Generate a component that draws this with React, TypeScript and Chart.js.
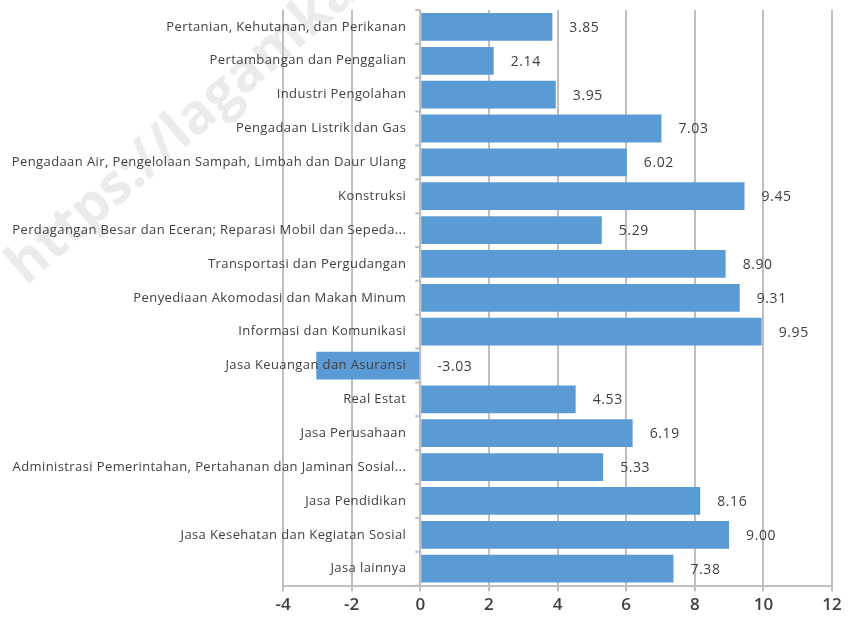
import React, { useEffect, useRef } from "react";
import { Chart, registerables } from "chart.js";

Chart.register(...registerables);

const categories: string[] = [
  "Pertanian, Kehutanan, dan Perikanan",
  "Pertambangan dan Penggalian",
  "Industri Pengolahan",
  "Pengadaan Listrik dan Gas",
  "Pengadaan Air, Pengelolaan Sampah, Limbah dan Daur Ulang",
  "Konstruksi",
  "Perdagangan Besar dan Eceran; Reparasi Mobil dan Sepeda...",
  "Transportasi dan Pergudangan",
  "Penyediaan Akomodasi dan Makan Minum",
  "Informasi dan Komunikasi",
  "Jasa Keuangan dan Asuransi",
  "Real Estat",
  "Jasa Perusahaan",
  "Administrasi Pemerintahan, Pertahanan dan Jaminan Sosial...",
  "Jasa Pendidikan",
  "Jasa Kesehatan dan Kegiatan Sosial",
  "Jasa lainnya",
];

const values: number[] = [
  3.85, 2.14, 3.95, 7.03, 6.02, 9.45, 5.29, 8.9, 9.31, 9.95, -3.03, 4.53, 6.19,
  5.33, 8.16, 9.0, 7.38,
];

const xMin = -4;
const xMax = 12;
const xStep = 2;
const watermarkText = "https://lagamka";

const FAMILY = '"Open Sans", "Noto Sans", sans-serif';
const LABEL_FONT = "13px " + FAMILY;
const VALUE_FONT = "14px " + FAMILY;
const TEXT_COLOR = "#404040";
const GRID_COLOR = "#bfbfbf";

const sidePlugin = {
  id: "sidePlugin",
  beforeDraw(chart: any) {
    const ctx = chart.ctx;
    ctx.save();
    ctx.translate(26, 286);
    ctx.rotate((-41 * Math.PI) / 180);
    ctx.font = "bold 55px " + FAMILY;
    ctx.fillStyle = "#ebebeb";
    ctx.textAlign = "left";
    ctx.textBaseline = "alphabetic";
    ctx.fillText(watermarkText, 0, 0);
    ctx.restore();
  },
  beforeDatasetsDraw(chart: any) {
    const ctx = chart.ctx;
    const x = chart.scales.x;
    const x0 = x.getPixelForValue(0);
    const area = chart.chartArea;
    ctx.save();
    ctx.strokeStyle = GRID_COLOR;
    ctx.lineWidth = 2;
    ctx.beginPath();
    ctx.moveTo(x0, area.top);
    ctx.lineTo(x0, area.bottom);
    const n = categories.length;
    for (let i = 0; i <= n; i++) {
      const py = area.top + ((area.bottom - area.top) * i) / n;
      ctx.moveTo(x0 - 5, py);
      ctx.lineTo(x0, py);
    }
    ctx.stroke();
    ctx.restore();
  },
  afterDatasetsDraw(chart: any) {
    const ctx = chart.ctx;
    const x = chart.scales.x;
    const y = chart.scales.y;
    const x0 = x.getPixelForValue(0);
    ctx.save();
    ctx.fillStyle = TEXT_COLOR;
    ctx.textBaseline = "middle";
    categories.forEach((c, i) => {
      const py = y.getPixelForValue(i);
      ctx.font = LABEL_FONT;
      ctx.letterSpacing = "0.4px";
      ctx.textAlign = "right";
      ctx.fillText(c, x0 - 14, py);
      const v = values[i];
      ctx.font = VALUE_FONT;
      ctx.letterSpacing = "0.6px";
      ctx.textAlign = "left";
      ctx.fillText(v.toFixed(2), x.getPixelForValue(Math.max(v, 0)) + 17, py + 1);
    });
    ctx.restore();
  },
};

export default function App() {
  const ref = useRef<HTMLCanvasElement | null>(null);
  useEffect(() => {
    if (!ref.current) return;
    const chart = new Chart(ref.current, {
      type: "bar",
      data: {
        labels: categories,
        datasets: [
          {
            data: values,
            backgroundColor: "#5b9bd5",
            borderWidth: 0,
            barPercentage: 0.82,
            categoryPercentage: 1,
          },
        ],
      },
      options: {
        indexAxis: "y",
        animation: false,
        responsive: false,
        maintainAspectRatio: false,
        layout: { padding: { left: 283, right: 17, top: 10, bottom: 6 } },
        plugins: {
          legend: { display: false },
          tooltip: { enabled: false },
        },
        scales: {
          x: {
            type: "linear",
            min: xMin,
            max: xMax,
            ticks: {
              stepSize: xStep,
              color: TEXT_COLOR,
              font: { family: FAMILY, size: 17, weight: "600" },
              padding: 3,
            },
            grid: {
              color: GRID_COLOR,
              lineWidth: 2,
              drawTicks: true,
              tickLength: 6,
            },
            border: { display: true, color: GRID_COLOR, width: 2 },
          },
          y: {
            type: "category",
            display: false,
          },
        },
      },
      plugins: [sidePlugin],
    });
    return () => chart.destroy();
  }, []);
  return (
    <div style={{ position: "absolute", left: 0, top: 0, width: 849, height: 624 }}>
      <canvas ref={ref} width={849} height={624} style={{ width: 849, height: 624 }} />
    </div>
  );
}
